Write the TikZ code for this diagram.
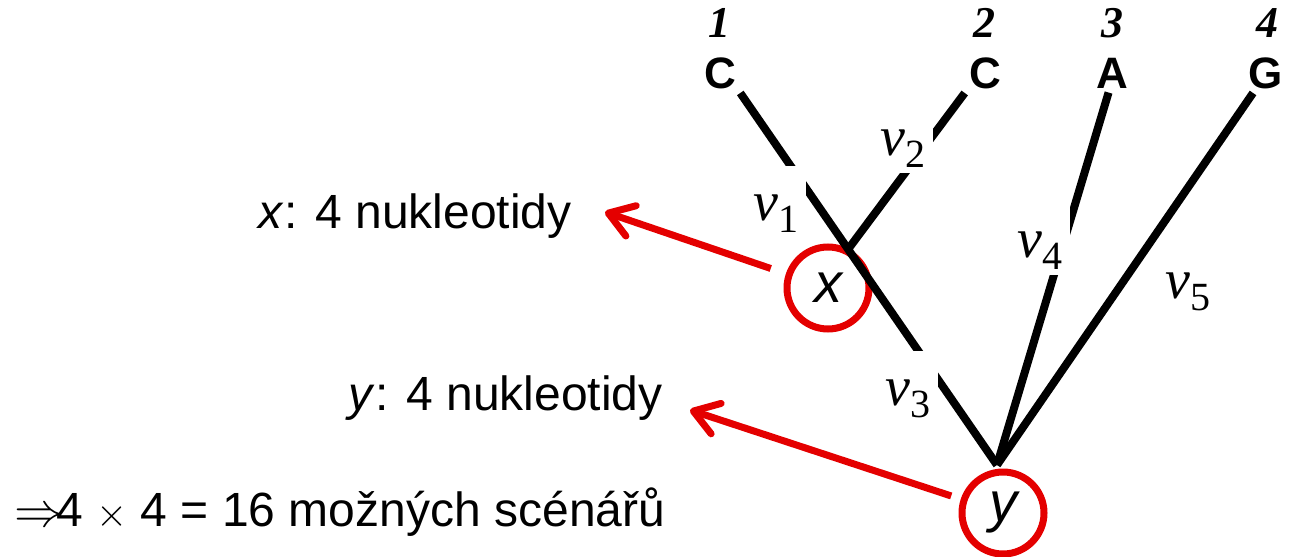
\documentclass[tikz,border=0pt]{standalone}
\usepackage{fontspec}
\setmainfont{Liberation Sans}
\newfontfamily\timesfont{Liberation Serif}
\usetikzlibrary{arrows.meta, calc}
\definecolor{markred}{RGB}{228,0,0}

\tikzset{
  txt/.style={font=\fontsize{24}{28}\selectfont, inner sep=0pt},
  leaf/.style={font=\fontsize{22}{26}\selectfont\bfseries, inner sep=2pt},
  num/.style={font=\timesfont\fontsize{22}{26}\selectfont\bfseries\itshape, inner sep=0pt},
  branch/.style={line width=4pt},
  blen/.style={fill=white, inner xsep=4pt, inner ysep=3pt, text height=24pt, anchor=base west},
  anc/.style={circle, draw=markred, line width=3.5pt, minimum size=41pt, inner sep=0pt,
              font=\fontsize{28}{30}\selectfont\itshape},
  pointer/.style={draw=markred, line width=3.5pt,
                  -{Straight Barb[length=12pt, width=16pt, round]}},
}
\newcommand{\blab}[1]{{\timesfont\itshape\fontsize{28}{30}\selectfont v}\raisebox{-6pt}{\timesfont\fontsize{20}{22}\selectfont #1}}

\begin{document}
\begin{tikzpicture}[x=0.5pt, y=-0.5pt]

    \useasboundingbox (0,0) rectangle (1291,557);

    % --- LEAVES ---
    \node[num] (n1) at (719,23) {1};
    \node[num] (n2) at (984,23) {2};
    \node[num] (n3) at (1112,23) {3};
    \node[num] (n4) at (1267,23) {4};
    \node[leaf] (c1) at (720,73) {C};
    \node[leaf] (c2) at (985,73) {C};
    \node[leaf] (c3) at (1112,73) {A};
    \node[leaf] (c4) at (1266,73) {G};

    % --- ANCESTORS ---
    \node[anc] (ax) at (828,288) {x};
    \node[anc] (ay) at (1003,513) {y};
    \coordinate (jy) at (997,465);
    \coordinate (jx) at ($(c1.south east)!0.42!(jy)$);

    % --- BRANCHES ---
    \draw[branch] (c1.south east) -- (jy);
    \draw[branch] (c2.south west) -- (jx);
    \draw[branch] (c3.-100) -- (jy);
    \draw[branch] (c4.-123) -- (jy);

    % branch lengths
    \node[blen] (v1) at (745,220) {\blab{1}};
    \node[blen] (v2) at (872,155) {\blab{2}};
    \node[blen] (v3) at (877,405) {\blab{3}};
    \node[blen] (v4) at (1009,257) {\blab{4}};
    \node[blen] (v5) at (1157,298) {\blab{5}};

    % --- TEXTS AND POINTERS ---
    \node[txt, anchor=base east] (tx) at (572,228) {\textit{x}: 4 nukleotidy};
    \node[txt, anchor=base east] (ty) at (663,410) {\textit{y}: 4 nukleotidy};
    \node[txt, anchor=base west] (tz) at (14,526)
        {\scalebox{2.5}[2.4]{\normalsize$\Rightarrow$}\kern-4pt4 \scalebox{2.0}{\normalsize$\times$} 4 = 16 možných scénářů};

    \coordinate (px) at (605,212);
    \coordinate (py) at (690,410);
    \draw[pointer, shorten <=8pt] (ax) -- (px);
    \draw[pointer, shorten <=5pt] (ay) -- (py);

\end{tikzpicture}
\end{document}
